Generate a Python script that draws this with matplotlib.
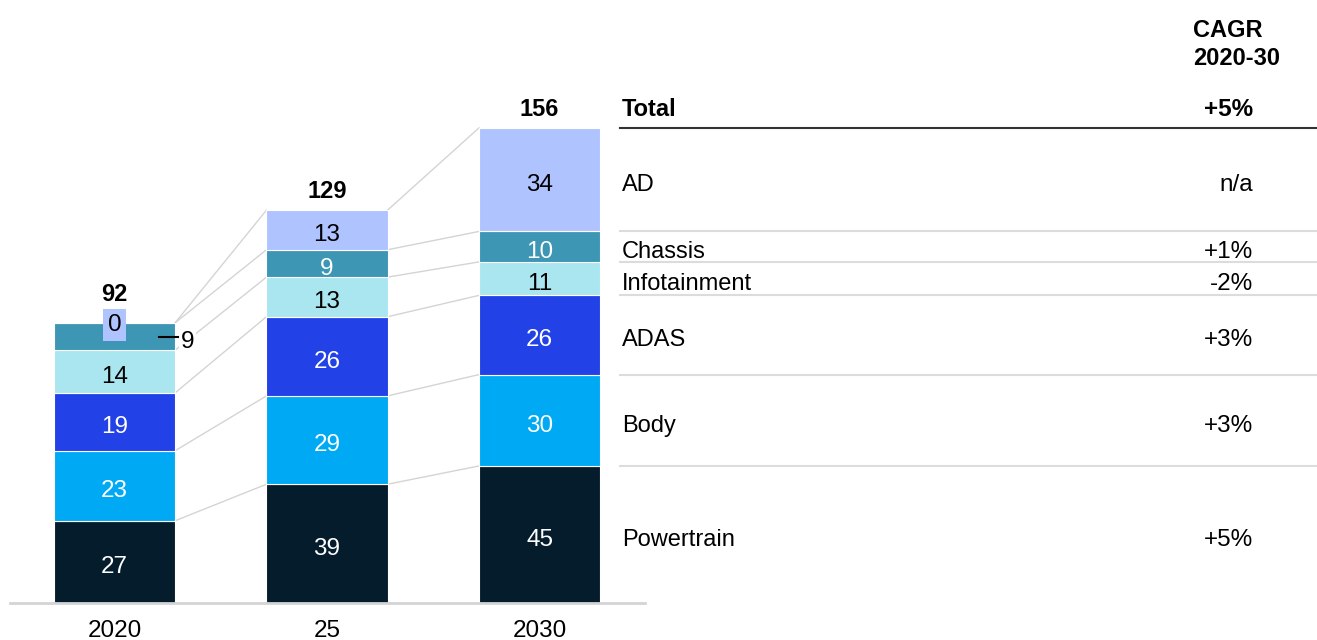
import numpy as np
from matplotlib import pyplot as plt

plt.rcParams['font.family'] = ['Liberation Sans', 'DejaVu Sans']

years = ['2020', '25', '2030']
segments = ['Powertrain', 'Body', 'ADAS', 'Infotainment', 'Chassis', 'AD']
powertrain = [27, 39, 45]
body = [23, 29, 30]
adas = [19, 26, 26]
infotainment = [14, 13, 11]
chassis = [9, 9, 10]
ad = [0, 13, 34]
cagr = ['+5%', '+3%', '+3%', '-2%', '+1%', 'n/a']
cagr_total = '+5%'

colors = ['#051c2c', '#00a9f4', '#2241e6', '#aae6f0', '#3c96b4', '#afc3ff']
text_colors = ['white', 'white', 'white', 'black', 'white', 'black']
grey = '#d4d4d4'
VA = 'center_baseline'
NUDGE = 0.9  # labels sit a touch below the segment middle


def main():
    fig = plt.figure(figsize=(13.17, 6.4), dpi=100)
    ax = fig.add_axes([0, 37 / 640, 1, 603 / 640])
    ax.set_xlim(-0.539, 5.659)
    ax.set_ylim(0, 198)
    ax.axis('off')

    data = np.array([powertrain, body, adas, infotainment, chassis, ad])
    tops = np.cumsum(data, axis=0)
    bottoms = tops - data
    totals = tops[-1]
    x = np.arange(len(years))
    w = 0.57

    for i in range(len(segments)):
        ax.bar(x, data[i], w, bottom=bottoms[i], color=colors[i],
               edgecolor='white', linewidth=0.8, zorder=2)

    # connectors between bars
    for j in range(len(years) - 1):
        for i in range(len(segments)):
            ax.plot([x[j] + w / 2, x[j + 1] - w / 2],
                    [tops[i, j], tops[i, j + 1]], color=grey, lw=1, zorder=1)

    # segment labels
    for j in range(len(years)):
        for i in range(len(segments)):
            v = data[i, j]
            yc = bottoms[i, j] + v / 2 - NUDGE
            if v == 0:
                ax.text(x[j], yc + NUDGE, '0', ha='center', va=VA, fontsize=17.5,
                        color=text_colors[i], zorder=5,
                        bbox=dict(facecolor=colors[i], edgecolor='none', pad=3.5))
            elif i + 1 < len(segments) and data[i + 1, j] == 0:
                ax.plot([x[j] + w / 2 - 0.076, x[j] + w / 2 + 0.014],
                        [yc + NUDGE, yc + NUDGE], color='black', lw=1.5, zorder=4)
                ax.text(x[j] + w / 2 + 0.026, yc, str(v), ha='left', va=VA,
                        fontsize=17.5, color='black', zorder=3,
                        bbox=dict(facecolor='white', edgecolor='none', pad=1))
            else:
                ax.text(x[j], yc, str(v), ha='center', va=VA, fontsize=17.5,
                        color=text_colors[i], zorder=3)

    # totals
    for j in range(len(years)):
        off = 10 if data[-1, j] == 0 else 6.8
        ax.text(x[j], totals[j] + off, str(totals[j]), ha='center', va=VA,
                fontsize=17, fontweight='bold', zorder=5)

    # baseline and year labels
    ax.plot([-0.492, 2.496], [0, 0], color=grey, lw=2, clip_on=False, zorder=3)
    for j in range(len(years)):
        ax.text(x[j], -8.3, years[j], ha='center', va=VA, fontsize=17.5)

    # legend table
    xl, xr, x0, x1 = 2.388, 5.358, 2.379, 5.659
    last = len(years) - 1
    for i in range(len(segments)):
        yc = bottoms[i, last] + data[i, last] / 2 - NUDGE
        ax.text(xl, yc, segments[i], ha='left', va=VA, fontsize=17)
        ax.text(xr, yc, cagr[i], ha='right', va=VA, fontsize=17.5)
        lc = '#333333' if i == len(segments) - 1 else '#dcdcdc'
        ax.plot([x0, x1], [tops[i, last], tops[i, last]], color=lc, lw=1.5,
                clip_on=False)
    ax.text(xl, totals[last] + 6.8, 'Total', ha='left', va=VA,
            fontsize=17, fontweight='bold')
    ax.text(xr, totals[last] + 6.8, cagr_total, ha='right', va=VA,
            fontsize=17.5, fontweight='bold')
    ax.text(5.075, 183.4, 'CAGR\n2020-30', ha='left', va='center', fontsize=17,
            fontweight='bold', linespacing=1.3)

    fig.savefig('out.png', dpi=100)


main()
